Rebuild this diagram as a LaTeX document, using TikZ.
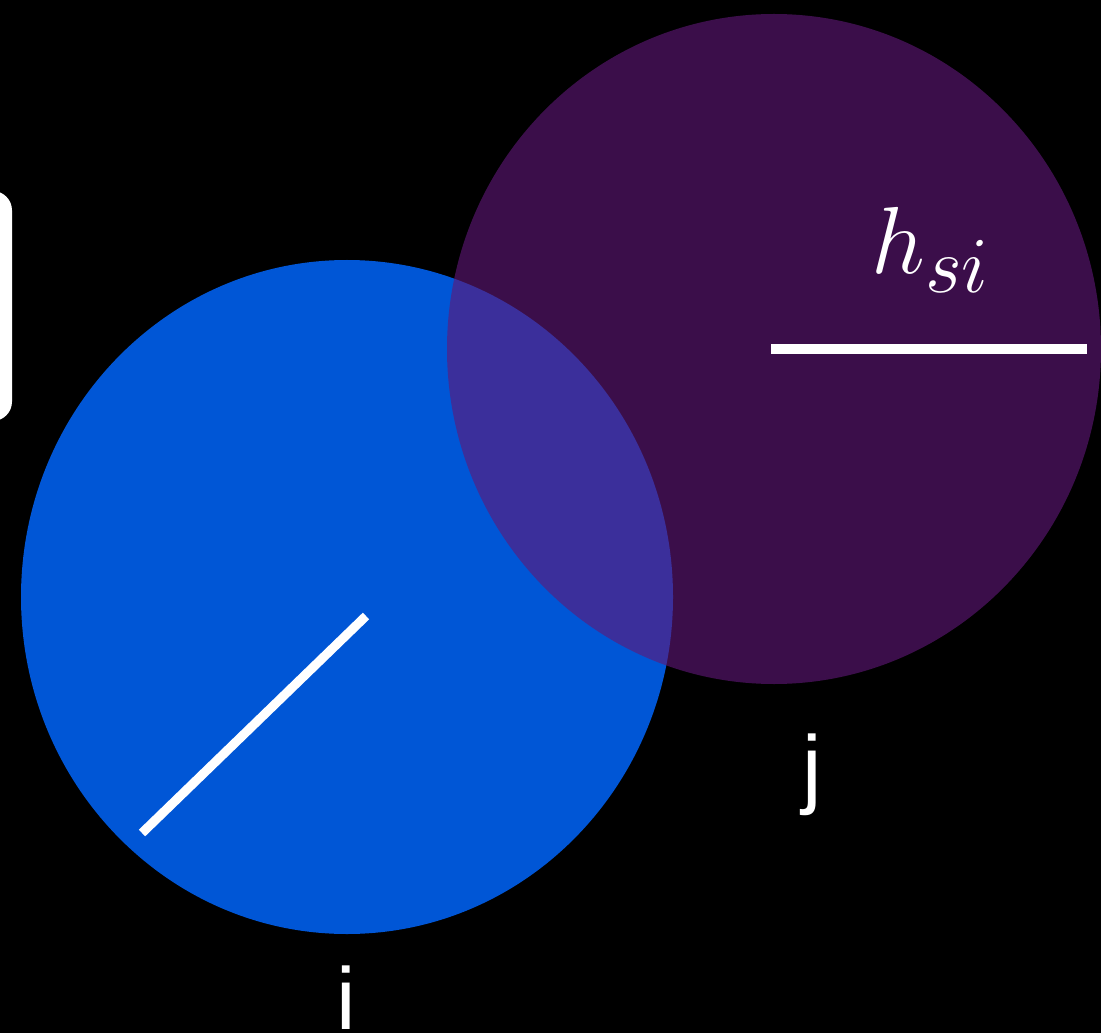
\documentclass[tikz,border=0pt]{standalone}
\usepackage{fontspec}
\newfontfamily\labelfont{Liberation Sans}
\usetikzlibrary{positioning}
\definecolor{bluei}{RGB}{0,86,214}
\definecolor{purplej}{RGB}{96,24,120}
\tikzset{
  disk i/.style={fill=bluei},
  disk j/.style={fill=purplej, fill opacity=0.625},
  radius line/.style={white, line width=5.2pt},
  disk label/.style={text=white, inner sep=0pt, anchor=base,
    font=\labelfont\fontsize{50}{56}\selectfont},
}

\begin{document}
\begin{tikzpicture}[x=0.02cm, y=-0.02cm]

  % background
  \fill[black] (0,0) rectangle (1101,1033);
  \useasboundingbox (0,0) rectangle (1101,1033);
  \clip (0,0) rectangle (1101,1033);

  % white tab on the left
  \fill[white, rounded corners=11pt] (-60,191) rectangle (12,421);

  % disks
  \coordinate (ci) at (347,597);
  \coordinate (cj) at (774,349);
  \fill[disk i] (ci) ellipse [x radius=326, y radius=337];
  \fill[disk j] (cj) ellipse [x radius=327, y radius=335];

  % radii
  \coordinate (ri0) at (366,616);
  \coordinate (ri1) at (142,833);
  \draw[radius line] (ri0) -- (ri1);
  \coordinate (rj0) at (771,349);
  \coordinate (rj1) at (1087,349);
  \draw[radius line, line width=5.6pt] (rj0) -- (rj1);

  % labels
  \node[text=white, inner sep=0pt, font=\Huge, scale=2.18] (hsi) at (931,250) {$h_{si}$};
  \node[disk label] (li) at (346,1029) {i};
  \node[disk label] (lj) at (812,797) {j};

\end{tikzpicture}
\end{document}
